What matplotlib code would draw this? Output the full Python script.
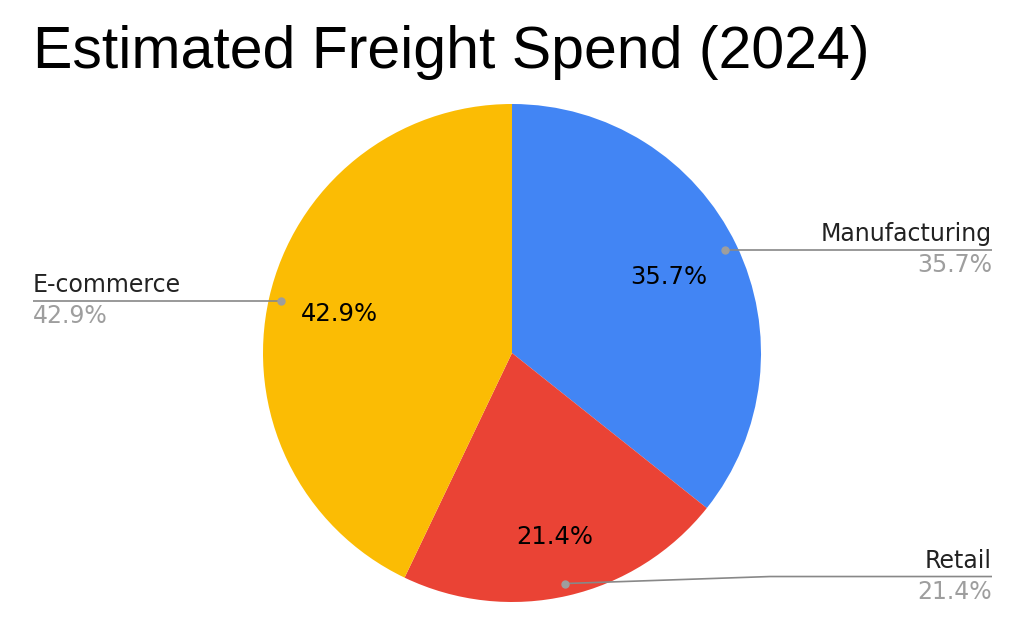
import numpy as np
import matplotlib
matplotlib.use("Agg")
import matplotlib.pyplot as plt

categories = ["Manufacturing", "Retail", "E-commerce"]
values = [35.7, 21.4, 42.9]
colors = ["#4285F4", "#EA4335", "#FBBC04"]
title = "Estimated Freight Spend (2024)"

W, H = 1024, 633
fig = plt.figure(figsize=(W / 100, H / 100), dpi=100)
ax = fig.add_axes([0, 0, 1, 1])

cx, cy, R = 512, H - 353, 249
wedges, _, autotexts = ax.pie(
    values, colors=colors, startangle=90, counterclock=False,
    center=(cx, cy), radius=R, autopct="%1.1f%%", pctdistance=0.72,
    textprops=dict(fontsize=17.5, color="black", family="DejaVu Sans"),
    wedgeprops=dict(linewidth=0),
)
ax.set_xlim(0, W)
ax.set_ylim(0, H)
ax.set_aspect("equal")
ax.axis("off")

# fine-tune inner label radial distances
pct_dist = [0.70, 0.76, 0.71]
for w, t, d in zip(wedges, autotexts, pct_dist):
    mid = np.deg2rad((w.theta1 + w.theta2) / 2)
    t.set_position((cx + d * R * np.cos(mid), cy + d * R * np.sin(mid)))

fig.text(33 / W, 1 - 52 / H, title, fontsize=42.5, color="black",
         family="Liberation Sans", va="center", ha="left")

line_col = "#888888"
for w, cat, v in zip(wedges, categories, values):
    mid = np.deg2rad((w.theta1 + w.theta2) / 2)
    dx, dy = cx + 0.95 * R * np.cos(mid), cy + 0.95 * R * np.sin(mid)
    if np.cos(mid) >= 0:
        xend, ha = 992, "right"
    else:
        xend, ha = 33, "left"
    if abs(np.sin(mid)) > 0.8:
        ly = dy + 7
        xs = [dx, 770, xend]
        ys = [dy, ly, ly]
    else:
        ly = dy
        xs = [dx, xend]
        ys = [dy, ly]
    ax.plot(xs, ys, color=line_col, lw=1.2, solid_capstyle="butt")
    ax.plot([dx], [dy], "o", color="#9e9e9e", ms=5)
    ax.text(xend, ly + 4, cat, ha=ha, va="bottom", fontsize=17,
            color="#222222", family="DejaVu Sans")
    ax.text(xend, ly - 3, f"{v:.1f}%", ha=ha, va="top", fontsize=17,
            color="#9e9e9e", family="DejaVu Sans")

fig.savefig("out.png", dpi=100, facecolor="white")
